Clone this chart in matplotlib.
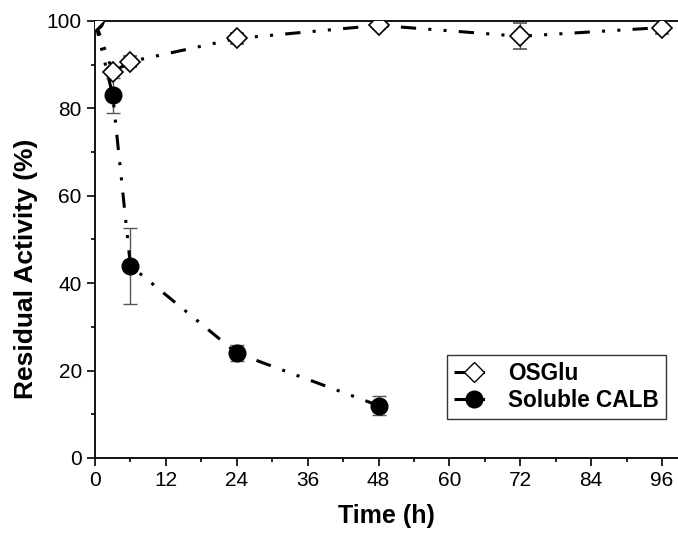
import matplotlib
matplotlib.use("Agg")
import matplotlib.pyplot as plt
from matplotlib.lines import Line2D

plt.rcParams['font.family'] = ['Liberation Sans', 'DejaVu Sans']

time_os = [0, 3, 6, 24, 48, 72, 96]
os_vals = [100, 88.3, 90.7, 96.0, 99.0, 96.5, 98.5]
os_err = [0.5, 1.0, 1.2, 1.2, 0.8, 3.0, 1.5]

time_calb = [0, 3, 6, 24, 48]
calb_vals = [100, 83.0, 44.0, 24.0, 12.0]
calb_err = [0.5, 4.0, 8.7, 1.8, 2.2]

xticks = [0, 12, 24, 36, 48, 60, 72, 84, 96]
yticks = [0, 20, 40, 60, 80, 100]

fig = plt.figure(figsize=(6.78, 5.38), dpi=100)
ax = fig.add_axes([0.1401, 0.1487, 0.8599, 0.8123])

ls = (0, (5, 4, 1, 4, 1, 4))
ax.errorbar(time_calb, calb_vals, yerr=calb_err, color='black', ecolor='#555555',
            elinewidth=1, capsize=5, capthick=1, linestyle=ls, linewidth=2.2,
            marker='o', markersize=12, markerfacecolor='black', markeredgecolor='black',
            zorder=3)
ax.errorbar(time_os, os_vals, yerr=os_err, color='black', ecolor='#555555',
            elinewidth=1, capsize=5, capthick=1, linestyle=ls, linewidth=2.2,
            marker='D', markersize=10, markerfacecolor='white', markeredgecolor='black',
            markeredgewidth=1.2, zorder=4)

ax.set_xlim(0, 98.7)
ax.set_ylim(0, 100)
ax.set_xticks(xticks)
ax.set_yticks(yticks)
ax.set_xticks(range(6, 99, 12), minor=True)
ax.set_yticks(range(10, 100, 20), minor=True)
ax.tick_params(axis='both', which='major', direction='out', length=6, width=1.2, labelsize=15)
ax.tick_params(axis='both', which='minor', direction='out', length=3, width=1.2)
ax.spines['right'].set_visible(False)
for s in ['left', 'bottom', 'top']:
    ax.spines[s].set_linewidth(1.3)

ax.set_xlabel('Time (h)', fontsize=18, fontweight='bold', labelpad=10)
ax.set_ylabel('Residual Activity (%)', fontsize=19, fontweight='bold')
ax.yaxis.set_label_coords(-0.097, 0.432)

h1 = Line2D([], [], color='black', linestyle=ls, linewidth=2.2, marker='D', markersize=10,
            markerfacecolor='white', markeredgecolor='black')
h2 = Line2D([], [], color='black', linestyle=ls, linewidth=2.2, marker='o', markersize=12,
            markerfacecolor='black')
leg = ax.legend([h1, h2], ['OSGlu', 'Soluble CALB'], loc='lower right',
                bbox_to_anchor=(0.979, 0.089), borderaxespad=0,
                prop={'weight': 'bold', 'size': 16.3},
                frameon=True, fancybox=False, edgecolor='black', handlelength=1.8,
                borderpad=0.3, labelspacing=0.2, handletextpad=0.6)
leg.get_frame().set_linewidth(1.0)

fig.savefig('out.png', dpi=100)
